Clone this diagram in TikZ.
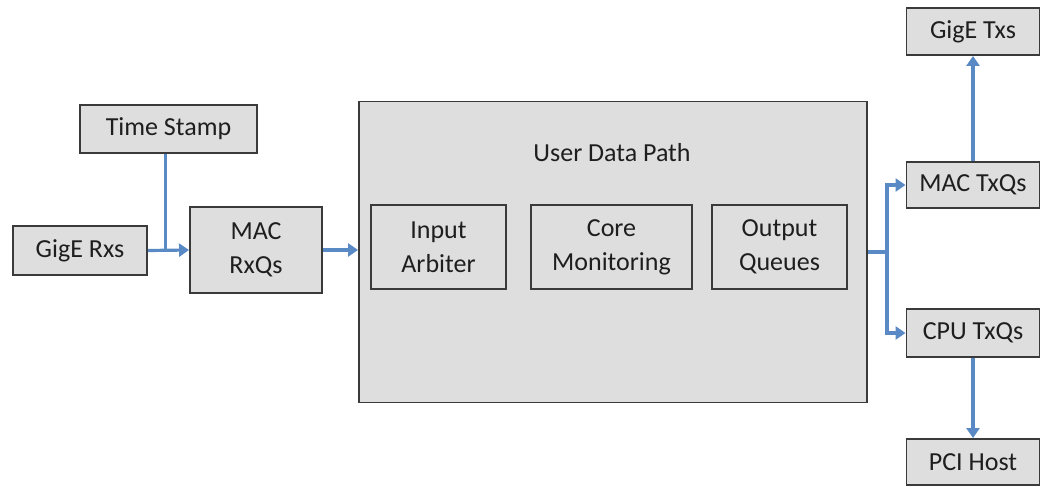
\documentclass[tikz,border=0pt]{standalone}
\usepackage{fontspec}
\setmainfont{Carlito}
\usetikzlibrary{arrows.meta}
\definecolor{boxfill}{HTML}{DEDEDE}
\definecolor{boxline}{HTML}{3A3A3A}
\definecolor{flow}{HTML}{5A8AC6}
\definecolor{ink}{HTML}{1E1E1E}
\begin{document}
\begin{tikzpicture}[x=1pt,y=-1pt,
  blk/.style={draw=boxline, fill=boxfill, line width=1.9pt, inner sep=0pt,
    align=center, text=ink, font=\fontsize{26}{34}\selectfont},
  wire/.style={draw=flow, line width=3.2pt},
  conn/.style={wire, -{Triangle[length=10pt,width=13pt]}}]
\useasboundingbox (0,0) rectangle (1041,487);

% receive side
\node[blk, minimum width=177pt, minimum height=48pt] (ts) at (168.5,129) {Time Stamp};
\node[blk, minimum width=134pt, minimum height=49pt] (rx) at (80,250.5) {GigE Rxs};
\node[blk, minimum width=132pt, minimum height=86pt] (macrx) at (256,250) {MAC\\RxQs};

% user data path with its three stages
\node[blk, minimum width=508pt, minimum height=301pt] (udp) at (613,252) {};
\node[text=ink, font=\fontsize{26}{34}\selectfont] (udpt) at (612,153) {User Data Path};
\node[blk, minimum width=135pt, minimum height=84pt] (ia) at (438.5,247) {Input\\Arbiter};
\node[blk, minimum width=161pt, minimum height=84pt] (cm) at (611.5,247) {Core\\Monitoring};
\node[blk, minimum width=135pt, minimum height=84pt] (oq) at (779.5,247) {Output\\Queues};

% transmit side
\node[blk, minimum width=133pt, minimum height=47pt] (gtx) at (973,31.5) {GigE Txs};
\node[blk, minimum width=133pt, minimum height=46pt] (mtx) at (973,185) {MAC TxQs};
\node[blk, minimum width=133pt, minimum height=48pt] (ctx) at (973,333) {CPU TxQs};
\node[blk, minimum width=133pt, minimum height=46pt] (pci) at (973,462) {PCI Host};

% connectors
\draw[conn] (rx.east) -- (macrx.west);
\draw[wire] ([xshift=-3pt]ts.south) -- ([xshift=-3pt]ts.south |- rx.east);
\draw[conn] (macrx.east) -- (macrx.east -| udp.west);
\coordinate (split) at (887,252);
\draw[wire] (udp.east |- split) -- (split);
\draw[conn] (split) |- (mtx.west);
\draw[conn] (split) |- (ctx.west);
\draw[conn] (mtx.north) -- (gtx.south);
\draw[conn] (ctx.south) -- (pci.north);
\end{tikzpicture}
\end{document}
